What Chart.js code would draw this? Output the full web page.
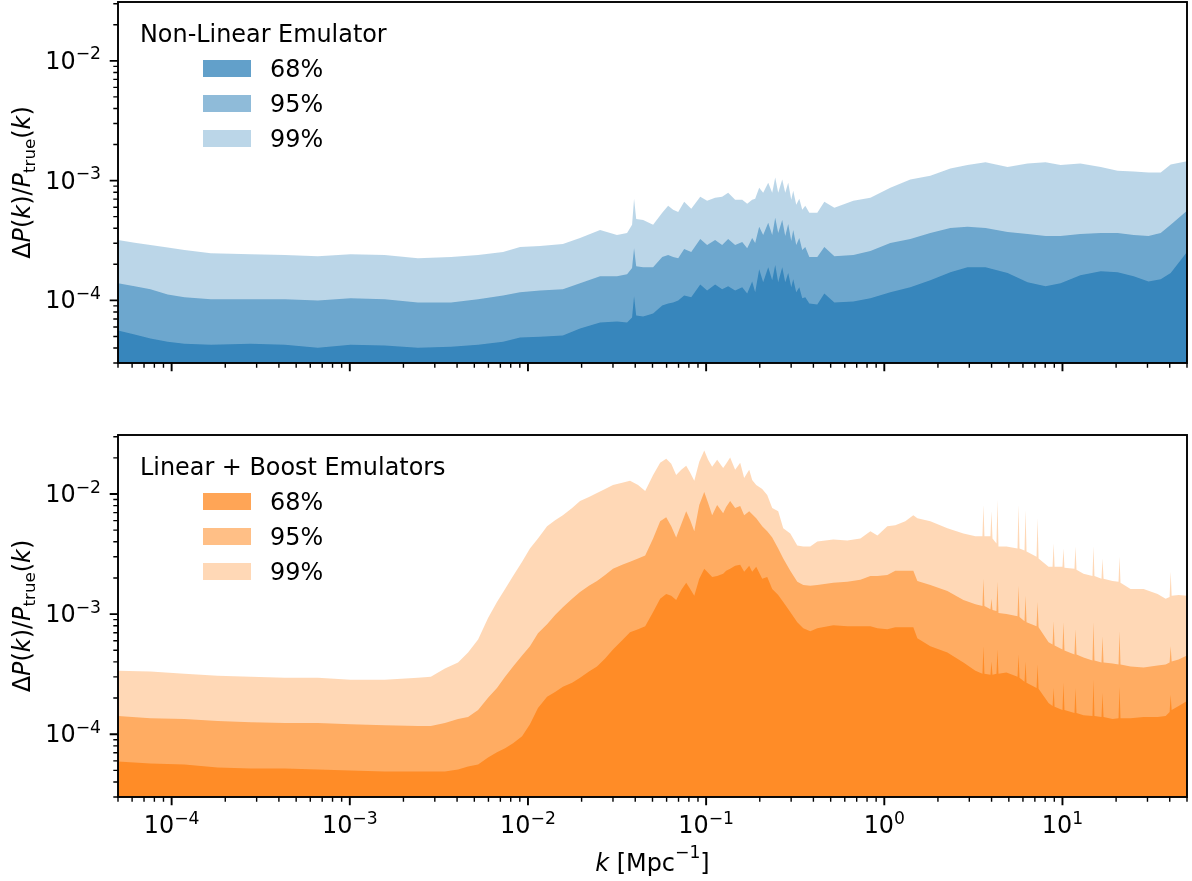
<!DOCTYPE html>
<html>
<head>
<meta charset="utf-8">
<script src="https://cdn.jsdelivr.net/npm/chart.js@4.4.1/dist/chart.umd.min.js"></script>
<style>
  html, body { margin: 0; padding: 0; background: #fff; }
  #wrap { position: relative; width: 1192px; height: 881px; }
  canvas { position: absolute; left: 0; }
  #chartTop { top: 0; }
  #chartBottom { top: 400px; }
</style>
</head>
<body>
<div id="wrap">
  <canvas id="chartTop" width="1192" height="400"></canvas>
  <canvas id="chartBottom" width="1192" height="481"></canvas>
</div>
<script>
const FONT = '"DejaVu Sans", sans-serif';
const FS = 23.9;

// Non-linear emulator: k grid [1/Mpc] and relative error bands
const kTop = [5.0e-5, 6.2e-5, 7.6e-5, 9.5e-5, 1.18e-4, 1.66e-4, 2.78e-4, 4.32e-4, 6.62e-4, 1.01e-3,
  1.57e-3, 2.41e-3, 3.70e-3, 5.25e-3, 7.25e-3, 9.03e-3, 1.17e-2, 1.57e-2, 1.96e-2, 2.54e-2,
  3.16e-2, 3.60e-2, 3.84e-2, 3.94e-2, 4.05e-2, 4.43e-2, 5.04e-2, 5.67e-2, 6.12e-2, 6.53e-2,
  6.97e-2, 7.53e-2, 8.25e-2, 9.27e-2, 0.1013, 0.1123, 0.1230, 0.1329, 0.1455, 0.1594,
  0.170, 0.1813, 0.1885, 0.1985, 0.209, 0.2231, 0.2349, 0.2442, 0.2538, 0.2674,
  0.278, 0.2889, 0.3004, 0.3082, 0.3205, 0.3333, 0.3464, 0.3601, 0.3794, 0.4207,
  0.4607, 0.5245, 0.6704, 0.8356, 1.081, 1.40, 1.813, 2.349, 2.93, 3.70,
  4.92, 6.37, 8.04, 9.76, 12.6, 16.4, 20.4, 25.1, 30.4, 35.6, 40.5, 50];

const nl68 = [5.60e-5, 5.18e-5, 4.80e-5, 4.52e-5, 4.35e-5, 4.27e-5, 4.35e-5, 4.27e-5, 4.03e-5, 4.27e-5,
  4.19e-5, 4.03e-5, 4.11e-5, 4.27e-5, 4.52e-5, 4.89e-5, 4.98e-5, 5.08e-5, 5.82e-5, 6.54e-5,
  6.66e-5, 6.54e-5, 7.19e-5, 1.08e-4, 7.48e-5, 7.34e-5, 7.77e-5, 9.08e-5, 9.44e-5, 9.62e-5,
  1.00e-4, 1.10e-4, 1.06e-4, 1.36e-4, 1.21e-4, 1.36e-4, 1.24e-4, 1.31e-4, 1.21e-4, 1.29e-4,
  1.14e-4, 1.44e-4, 1.17e-4, 1.82e-4, 1.42e-4, 1.89e-4, 1.47e-4, 1.97e-4, 1.42e-4, 1.89e-4,
  1.42e-4, 1.69e-4, 1.29e-4, 1.50e-4, 1.17e-4, 1.29e-4, 1.04e-4, 1.06e-4, 9.44e-5, 9.26e-5,
  1.14e-4, 9.62e-5, 9.81e-5, 1.04e-4, 1.17e-4, 1.29e-4, 1.47e-4, 1.72e-4, 1.89e-4, 1.89e-4,
  1.69e-4, 1.42e-4, 1.31e-4, 1.39e-4, 1.62e-4, 1.75e-4, 1.72e-4, 1.59e-4, 1.44e-4, 1.50e-4, 1.69e-4, 2.53e-4];

const nl95 = [1.39e-4, 1.31e-4, 1.24e-4, 1.12e-4, 1.06e-4, 1.02e-4, 1.02e-4, 1.02e-4, 1.00e-4, 1.04e-4,
  1.02e-4, 9.62e-5, 9.62e-5, 1.02e-4, 1.10e-4, 1.17e-4, 1.21e-4, 1.24e-4, 1.39e-4, 1.59e-4,
  1.59e-4, 1.65e-4, 1.86e-4, 2.73e-4, 1.93e-4, 1.89e-4, 1.89e-4, 2.30e-4, 2.39e-4, 2.30e-4,
  2.25e-4, 2.68e-4, 2.53e-4, 3.26e-4, 2.90e-4, 3.19e-4, 2.90e-4, 3.26e-4, 2.90e-4, 3.07e-4,
  2.73e-4, 3.32e-4, 3.01e-4, 4.11e-4, 3.52e-4, 4.44e-4, 3.52e-4, 4.89e-4, 3.66e-4, 4.70e-4,
  3.45e-4, 4.35e-4, 3.13e-4, 3.87e-4, 2.90e-4, 3.32e-4, 2.63e-4, 2.79e-4, 2.30e-4, 2.30e-4,
  2.79e-4, 2.34e-4, 2.39e-4, 2.58e-4, 3.01e-4, 3.26e-4, 3.66e-4, 4.03e-4, 4.11e-4, 4.03e-4,
  3.73e-4, 3.59e-4, 3.45e-4, 3.45e-4, 3.59e-4, 3.66e-4, 3.66e-4, 3.52e-4, 3.45e-4, 3.66e-4, 4.27e-4, 5.59e-4];

const nl99 = [3.19e-4, 3.03e-4, 2.90e-4, 2.76e-4, 2.63e-4, 2.47e-4, 2.43e-4, 2.39e-4, 2.34e-4, 2.43e-4,
  2.39e-4, 2.25e-4, 2.30e-4, 2.39e-4, 2.53e-4, 2.79e-4, 2.85e-4, 2.96e-4, 3.32e-4, 3.87e-4,
  3.52e-4, 3.66e-4, 4.27e-4, 7.06e-4, 4.79e-4, 4.70e-4, 4.27e-4, 5.39e-4, 6.16e-4, 5.71e-4,
  5.48e-4, 6.66e-4, 5.82e-4, 7.33e-4, 6.79e-4, 7.19e-4, 7.33e-4, 7.93e-4, 6.92e-4, 6.92e-4,
  6.41e-4, 6.92e-4, 7.06e-4, 8.73e-4, 7.93e-4, 9.62e-4, 7.93e-4, 1.06e-3, 7.93e-4, 1.02e-3,
  7.93e-4, 9.62e-4, 6.92e-4, 8.24e-4, 6.29e-4, 7.06e-4, 5.71e-4, 6.16e-4, 5.39e-4, 5.39e-4,
  6.66e-4, 5.93e-4, 6.79e-4, 7.19e-4, 8.73e-4, 1.02e-3, 1.10e-3, 1.26e-3, 1.35e-3, 1.42e-3,
  1.30e-3, 1.39e-3, 1.42e-3, 1.35e-3, 1.39e-3, 1.30e-3, 1.21e-3, 1.19e-3, 1.17e-3, 1.17e-3, 1.36e-3, 1.45e-3];

// Linear + boost emulators: k grid [1/Mpc] and relative error bands
const kBottom = [5.0e-5, 7.6e-5, 1.18e-4, 1.81e-4, 2.78e-4, 4.32e-4, 6.62e-4, 1.01e-3, 1.57e-3, 2.41e-3,
  2.85e-3, 3.42e-3, 4.05e-3, 4.61e-3, 5.25e-3, 5.97e-3, 6.70e-3, 7.44e-3, 8.25e-3, 9.27e-3,
  1.026e-2, 1.138e-2, 1.28e-2, 1.42e-2, 1.57e-2, 1.77e-2, 1.96e-2, 2.20e-2, 2.44e-2, 2.71e-2,
  3.00e-2, 3.38e-2, 3.74e-2, 4.15e-2, 4.55e-2, 5.04e-2, 5.52e-2, 5.97e-2, 6.37e-2, 6.79e-2,
  7.25e-2, 7.73e-2, 8.14e-2, 8.58e-2, 9.15e-2, 9.76e-2, 0.1026, 0.1081, 0.1153, 0.1246,
  0.1295, 0.1364, 0.1455, 0.1553, 0.1635, 0.1745, 0.1813, 0.191, 0.2064, 0.2202,
  0.2349, 0.2538, 0.2709, 0.2966, 0.3247, 0.3509, 0.3842, 0.4207, 0.5174, 0.6204,
  0.7342, 0.8356, 0.915, 1.040, 1.153, 1.312, 1.455, 1.533, 1.813, 2.260,
  2.780, 3.247, 3.556, 3.601, 3.648, 3.943, 3.994, 4.048, 4.261, 4.318,
  4.373, 4.850, 5.595, 5.666, 5.740, 6.124, 6.204, 6.285, 7.153, 7.249,
  7.342, 8.356, 8.80, 8.92, 9.031, 10.0, 10.13, 10.26, 11.68, 11.83,
  11.99, 13.12, 14.74, 14.93, 15.12, 16.56, 16.78, 17.00, 19.10, 20.64,
  20.90, 21.17, 24.11, 28.53, 34.20, 37.94, 39.94, 40.48, 41.00, 44.88, 50];

const lb68 = [5.93e-5, 5.71e-5, 5.60e-5, 5.28e-5, 5.18e-5, 5.18e-5, 5.08e-5, 4.98e-5, 4.89e-5, 4.89e-5,
  4.89e-5, 4.89e-5, 5.08e-5, 5.38e-5, 5.60e-5, 6.41e-5, 7.06e-5, 7.63e-5, 8.40e-5, 9.62e-5,
  1.21e-4, 1.65e-4, 2.05e-4, 2.25e-4, 2.48e-4, 2.68e-4, 2.95e-4, 3.32e-4, 3.66e-4, 4.27e-4,
  5.08e-4, 6.05e-4, 7.06e-4, 7.48e-4, 7.93e-4, 1.04e-3, 1.34e-3, 1.47e-3, 1.42e-3, 1.31e-3,
  1.59e-3, 1.82e-3, 1.62e-3, 1.42e-3, 1.97e-3, 2.39e-3, 2.21e-3, 2.04e-3, 2.08e-3, 2.17e-3,
  2.30e-3, 2.39e-3, 2.53e-3, 2.58e-3, 2.25e-3, 2.53e-3, 2.25e-3, 2.48e-3, 1.97e-3, 2.04e-3,
  1.62e-3, 1.44e-3, 1.26e-3, 1.04e-3, 8.57e-4, 7.63e-4, 7.19e-4, 7.63e-4, 8.09e-4, 7.93e-4,
  7.93e-4, 7.93e-4, 7.63e-4, 7.48e-4, 7.78e-4, 7.78e-4, 7.78e-4, 6.29e-4, 5.39e-4, 4.79e-4,
  3.95e-4, 3.38e-4, 3.19e-4, 5.39e-4, 3.19e-4, 3.13e-4, 4.03e-4, 3.13e-4, 3.19e-4, 5.08e-4,
  3.19e-4, 3.26e-4, 3.01e-4, 4.61e-4, 2.95e-4, 2.73e-4, 4.03e-4, 2.68e-4, 2.43e-4, 3.80e-4,
  2.39e-4, 1.82e-4, 1.72e-4, 2.43e-4, 1.69e-4, 1.59e-4, 2.68e-4, 1.59e-4, 1.50e-4, 2.43e-4,
  1.50e-4, 1.44e-4, 1.42e-4, 2.84e-4, 1.42e-4, 1.39e-4, 2.21e-4, 1.39e-4, 1.34e-4, 1.36e-4,
  2.48e-4, 1.36e-4, 1.36e-4, 1.39e-4, 1.39e-4, 1.42e-4, 1.53e-4, 2.13e-4, 1.59e-4, 1.72e-4, 1.89e-4];

const lb95 = [1.42e-4, 1.36e-4, 1.34e-4, 1.29e-4, 1.26e-4, 1.24e-4, 1.24e-4, 1.21e-4, 1.19e-4, 1.17e-4,
  1.17e-4, 1.24e-4, 1.34e-4, 1.39e-4, 1.59e-4, 2.01e-4, 2.43e-4, 3.01e-4, 3.66e-4, 4.52e-4,
  5.39e-4, 6.92e-4, 8.24e-4, 9.81e-4, 1.14e-3, 1.34e-3, 1.53e-3, 1.72e-3, 1.89e-3, 2.12e-3,
  2.39e-3, 2.58e-3, 2.73e-3, 2.90e-3, 3.07e-3, 4.27e-3, 5.93e-3, 6.41e-3, 5.39e-3, 4.35e-3,
  5.60e-3, 7.19e-3, 6.05e-3, 4.89e-3, 8.09e-3, 1.04e-2, 8.40e-3, 6.66e-3, 8.09e-3, 6.92e-3,
  7.78e-3, 8.74e-3, 7.63e-3, 7.93e-3, 6.66e-3, 7.19e-3, 6.79e-3, 6.29e-3, 5.39e-3, 4.89e-3,
  4.35e-3, 3.52e-3, 2.90e-3, 2.30e-3, 1.86e-3, 1.75e-3, 1.72e-3, 1.75e-3, 1.82e-3, 1.86e-3,
  1.93e-3, 2.08e-3, 2.08e-3, 2.12e-3, 2.30e-3, 2.30e-3, 2.30e-3, 1.89e-3, 1.75e-3, 1.56e-3,
  1.31e-3, 1.21e-3, 1.17e-3, 1.97e-3, 1.17e-3, 1.10e-3, 1.34e-3, 1.08e-3, 1.06e-3, 1.86e-3,
  1.02e-3, 1.00e-3, 9.62e-4, 1.72e-3, 9.44e-4, 8.74e-4, 1.42e-3, 8.57e-4, 7.93e-4, 1.26e-3,
  7.78e-4, 5.82e-4, 5.59e-4, 8.74e-4, 5.48e-4, 5.08e-4, 8.57e-4, 4.98e-4, 4.61e-4, 7.48e-4,
  4.61e-4, 4.35e-4, 4.11e-4, 8.57e-4, 4.11e-4, 3.95e-4, 6.54e-4, 3.95e-4, 3.87e-4, 3.80e-4,
  7.19e-4, 3.80e-4, 3.66e-4, 3.59e-4, 3.73e-4, 3.80e-4, 3.95e-4, 5.39e-4, 4.03e-4, 4.19e-4, 4.52e-4];

const lb99 = [3.38e-4, 3.32e-4, 3.19e-4, 3.07e-4, 3.01e-4, 2.95e-4, 2.95e-4, 2.84e-4, 2.84e-4, 2.95e-4,
  3.01e-4, 3.52e-4, 3.95e-4, 4.79e-4, 6.16e-4, 9.26e-4, 1.26e-3, 1.62e-3, 2.08e-3, 2.73e-3,
  3.52e-3, 4.27e-3, 5.39e-3, 6.05e-3, 6.66e-3, 7.63e-3, 8.74e-3, 9.44e-3, 1.02e-2, 1.10e-2,
  1.19e-2, 1.24e-2, 1.29e-2, 1.19e-2, 1.06e-2, 1.44e-2, 1.82e-2, 1.97e-2, 1.79e-2, 1.44e-2,
  1.59e-2, 1.72e-2, 1.50e-2, 1.29e-2, 1.86e-2, 2.30e-2, 1.93e-2, 1.69e-2, 1.93e-2, 1.65e-2,
  1.79e-2, 2.01e-2, 1.59e-2, 1.82e-2, 1.36e-2, 1.59e-2, 1.31e-2, 1.19e-2, 1.10e-2, 9.81e-3,
  7.63e-3, 7.19e-3, 5.18e-3, 4.70e-3, 3.73e-3, 3.66e-3, 3.66e-3, 4.03e-3, 4.19e-3, 4.11e-3,
  4.27e-3, 4.89e-3, 4.52e-3, 5.39e-3, 5.50e-3, 5.93e-3, 6.66e-3, 6.29e-3, 5.93e-3, 5.18e-3,
  4.70e-3, 4.44e-3, 4.44e-3, 8.09e-3, 4.44e-3, 4.44e-3, 7.19e-3, 4.27e-3, 3.87e-3, 8.91e-3,
  3.66e-3, 3.66e-3, 3.52e-3, 8.09e-3, 3.52e-3, 3.38e-3, 7.34e-3, 3.32e-3, 3.01e-3, 6.29e-3,
  2.90e-3, 2.48e-3, 2.48e-3, 3.87e-3, 2.48e-3, 2.48e-3, 3.52e-3, 2.43e-3, 2.39e-3, 3.66e-3,
  2.34e-3, 2.17e-3, 2.08e-3, 3.66e-3, 2.08e-3, 1.97e-3, 2.90e-3, 1.97e-3, 1.89e-3, 1.86e-3,
  3.01e-3, 1.82e-3, 1.62e-3, 1.62e-3, 1.47e-3, 1.34e-3, 1.39e-3, 2.25e-3, 1.42e-3, 1.44e-3, 1.42e-3];

const bandLabels = ['68%', '95%', '99%'];
const bandAlpha = [0.7, 0.5, 0.3];
const yMajors = [1e-4, 1e-3, 1e-2];
const yMajorExp = ['\u22124', '\u22123', '\u22122'];
const xMajors = [1e-4, 1e-3, 1e-2, 1e-1, 1, 10];
const xMajorExp = ['\u22124', '\u22123', '\u22122', '\u22121', '0', '1'];

function toPoints(k, v) {
  return k.map((x, i) => ({ x: x, y: v[i] }));
}

// 2..9 x 10^n inside [lo, hi]
function minorValues(lo, hi) {
  const out = [];
  for (let e = Math.floor(Math.log10(lo)); e <= Math.ceil(Math.log10(hi)); e++) {
    for (let m = 2; m <= 9; m++) {
      const v = m * Math.pow(10, e);
      if (v >= lo && v <= hi) out.push(v);
    }
  }
  return out;
}

// "10" with a raised exponent; y is the baseline of "10"
function drawPow(ctx, exp, x, y, align) {
  const big = FS + 'px ' + FONT, small = (FS * 0.72) + 'px ' + FONT;
  ctx.font = big;
  const w1 = ctx.measureText('10').width;
  ctx.font = small;
  const w2 = ctx.measureText(exp).width;
  const x0 = align === 'right' ? x - w1 - w2 : x - (w1 + w2) / 2;
  ctx.textAlign = 'left';
  ctx.textBaseline = 'alphabetic';
  ctx.font = big;
  ctx.fillText('10', x0, y);
  ctx.font = small;
  ctx.fillText(exp, x0 + w1, y - 9.5);
}

// text runs: [string, font, baseline shift]
function drawRuns(ctx, runs, x, y) {
  let w = 0;
  runs.forEach(r => { ctx.font = r[1]; w += ctx.measureText(r[0]).width; });
  let cx = x - w / 2;
  ctx.textAlign = 'left';
  ctx.textBaseline = 'alphabetic';
  runs.forEach(r => {
    ctx.font = r[1];
    ctx.fillText(r[0], cx, y + r[2]);
    cx += ctx.measureText(r[0]).width;
  });
}

const axisDecor = {
  id: 'axisDecor',
  afterDraw(chart, args, opts) {
    const ctx = chart.ctx, a = chart.chartArea;
    const xs = chart.scales.x, ys = chart.scales.y;
    ctx.save();
    ctx.strokeStyle = '#000';
    ctx.fillStyle = '#000';

    ctx.lineWidth = 1.4;
    ctx.beginPath();
    minorValues(xs.min, xs.max).forEach(v => {
      const p = xs.getPixelForValue(v);
      ctx.moveTo(p, a.bottom); ctx.lineTo(p, a.bottom + 4.7);
    });
    minorValues(ys.min, ys.max).forEach(v => {
      const p = ys.getPixelForValue(v);
      ctx.moveTo(a.left, p); ctx.lineTo(a.left - 4.7, p);
    });
    ctx.stroke();

    ctx.lineWidth = 1.9;
    ctx.beginPath();
    xMajors.forEach(v => {
      const p = xs.getPixelForValue(v);
      ctx.moveTo(p, a.bottom); ctx.lineTo(p, a.bottom + 8.3);
    });
    yMajors.forEach(v => {
      const p = ys.getPixelForValue(v);
      ctx.moveTo(a.left, p); ctx.lineTo(a.left - 8.3, p);
    });
    ctx.stroke();
    ctx.strokeRect(a.left, a.top, a.right - a.left, a.bottom - a.top);

    yMajors.forEach((v, i) => drawPow(ctx, yMajorExp[i], a.left - 17, ys.getPixelForValue(v) + 8, 'right'));
    if (opts.xLabels) {
      xMajors.forEach((v, i) => drawPow(ctx, xMajorExp[i], xs.getPixelForValue(v), a.bottom + 36, 'center'));
      const big = FS + 'px ' + FONT, ital = 'italic ' + FS + 'px ' + FONT, small = (FS * 0.72) + 'px ' + FONT;
      drawRuns(ctx, [['k', ital, 0], [' [Mpc', big, 0], ['\u22121', small, -13], [']', big, 0]],
        (a.left + a.right) / 2, a.bottom + 74);
    }

    // y title, rotated
    const big = FS + 'px ' + FONT, ital = 'italic ' + FS + 'px ' + FONT, sub = (FS * 0.7) + 'px ' + FONT;
    ctx.translate(22.5, (a.top + a.bottom) / 2);
    ctx.rotate(-Math.PI / 2);
    drawRuns(ctx, [['\u0394', big, 0], ['P', ital, 0], ['(', big, 0], ['k', ital, 0], [')/', big, 0],
      ['P', ital, 0], ['true', sub, 4.5], ['(', big, 0], ['k', ital, 0], [')', big, 0]], 0, 7.5);
    ctx.restore();
  }
};

const bandLegend = {
  id: 'bandLegend',
  afterDraw(chart, args, opts) {
    const ctx = chart.ctx, a = chart.chartArea;
    ctx.save();
    ctx.font = FS + 'px ' + FONT;
    ctx.textAlign = 'left';
    ctx.textBaseline = 'alphabetic';
    ctx.fillStyle = '#000';
    ctx.fillText(opts.title, a.left + 22, a.top + 40);
    chart.data.datasets.forEach((ds, i) => {
      const y = a.top + 58 + 35 * i;
      ctx.fillStyle = ds.backgroundColor;
      ctx.fillRect(a.left + 85, y, 48, 17);
      ctx.fillStyle = '#000';
      ctx.fillText(ds.label, a.left + 152, y + 17);
    });
    ctx.restore();
  }
};

function makePanel(id, k, bands, rgb, title, xLabels, padTop, xHeight) {
  return new Chart(document.getElementById(id).getContext('2d'), {
    type: 'line',
    data: {
      datasets: bands.map((v, i) => ({
        label: bandLabels[i],
        data: toPoints(k, v),
        backgroundColor: 'rgba(' + rgb + ',' + bandAlpha[i] + ')',
        borderColor: 'rgba(0,0,0,0)',
        borderWidth: 0,
        pointRadius: 0,
        fill: 'start',
        tension: 0
      }))
    },
    options: {
      responsive: false,
      animation: false,
      devicePixelRatio: 1,
      layout: { padding: { top: padTop, right: 5, bottom: 0, left: 0 } },
      plugins: {
        legend: { display: false },
        tooltip: { enabled: false },
        bandLegend: { title: title },
        axisDecor: { xLabels: xLabels }
      },
      scales: {
        x: {
          type: 'logarithmic', min: 5e-5, max: 50,
          grid: { display: false }, border: { display: false }, ticks: { display: false },
          afterFit: s => { s.height = xHeight; }
        },
        y: {
          type: 'logarithmic', min: 3.0e-5, max: 3.1e-2,
          grid: { display: false }, border: { display: false }, ticks: { display: false },
          afterFit: s => { s.width = 118; }
        }
      }
    },
    plugins: [axisDecor, bandLegend]
  });
}

const chartTop = makePanel('chartTop', kTop, [nl68, nl95, nl99], '31,119,180',
  'Non-Linear Emulator', false, 2, 37);
const chartBottom = makePanel('chartBottom', kBottom, [lb68, lb95, lb99], '255,127,14',
  'Linear + Boost Emulators', true, 35, 84);
</script>
</body>
</html>
